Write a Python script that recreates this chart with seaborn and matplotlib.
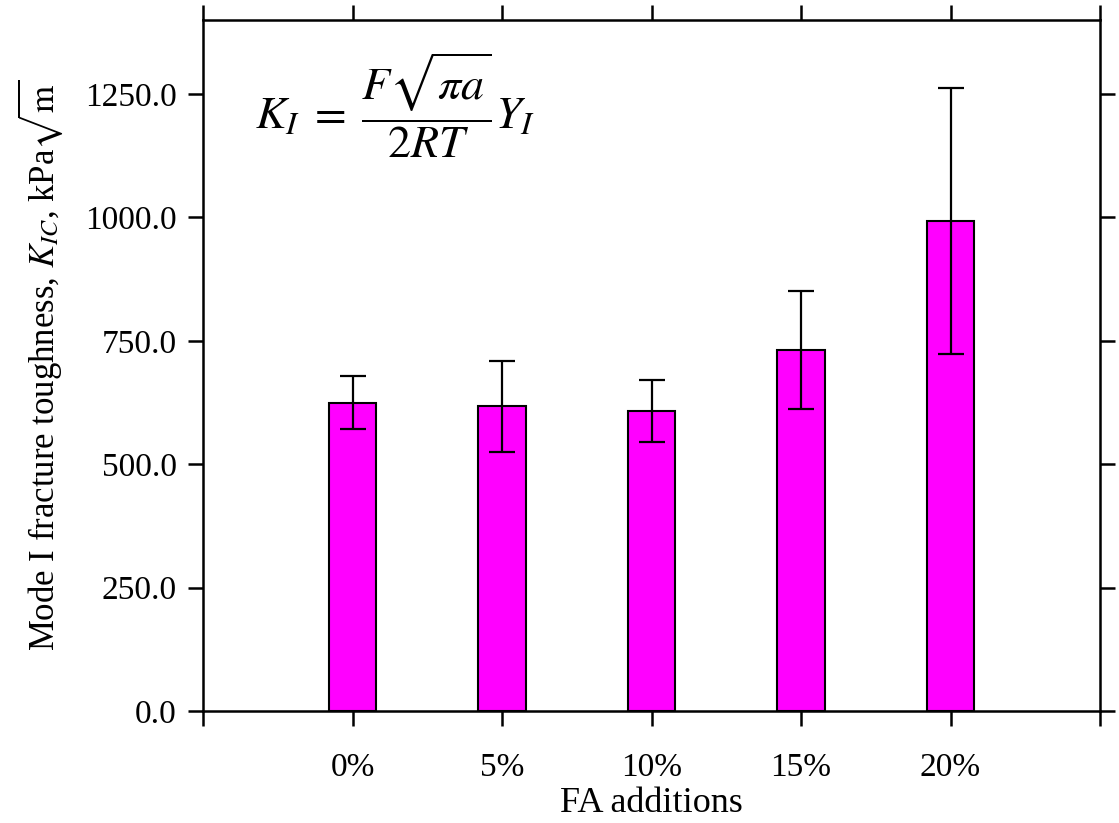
import matplotlib
matplotlib.use('Agg')
import matplotlib.pyplot as plt
import seaborn as sns
import pandas as pd

# FA oranları ve kırılma tokluğu değerleri
fa_labels = ['0%', '5%', '10%', '15%', '20%']
kic_mean = [625, 617, 608, 731, 993]
kic_err = [54, 92, 62, 120, 269]

df = pd.DataFrame({'FA': fa_labels, 'KIC': kic_mean})

sns.set_style('ticks')
plt.rcParams['font.family'] = ['Liberation Serif', 'DejaVu Serif']
plt.rcParams['mathtext.fontset'] = 'stix'
plt.rcParams['text.color'] = 'black'
plt.rcParams['axes.labelcolor'] = 'black'

fig = plt.figure(figsize=(11.19, 8.23), dpi=100)
ax = fig.add_axes([203 / 1119, 112 / 823, 897 / 1119, 691 / 823])

sns.barplot(data=df, x='FA', y='KIC', color='#ff00ff', saturation=1,
            edgecolor='black', linewidth=1.5, width=0.32, errorbar=None, ax=ax)
ax.errorbar(range(len(fa_labels)), kic_mean, yerr=kic_err, fmt='none',
            ecolor='black', elinewidth=1.6, capsize=9.5, capthick=1.6)

ax.set_xlim(-1, 5)
ax.set_ylim(0, 1400)
ax.set_xticks(range(-1, 6))
ax.set_xticklabels([''] + fa_labels + [''])
ax.set_yticks([0, 250, 500, 750, 1000, 1250])
ax.set_yticklabels(['0.0', '250.0', '500.0', '750.0', '1000.0', '1250.0'])

for s in ax.spines.values():
    s.set_visible(True)
    s.set_linewidth(1.8)
    s.set_color('black')
ax.tick_params(axis='both', direction='out', length=11, width=1.8,
               colors='black', labelsize=24, top=True, right=True)
ax.tick_params(axis='x', pad=19)
ax.tick_params(axis='y', pad=8)

ax.set_xlabel('FA additions', fontsize=26, labelpad=3, color='black')
ax.set_ylabel(r'Mode I fracture toughness, $K_{IC}$, kPa$\sqrt{\mathrm{m}}$',
              fontsize=25, labelpad=14, color='black')

ax.text(0.058, 0.876, r'$K_I\;=\;\dfrac{F\sqrt{\pi a}}{2RT}Y_I$',
        transform=ax.transAxes, fontsize=33, ha='left', va='center',
        color='black')

fig.savefig('out.png', dpi=100)
